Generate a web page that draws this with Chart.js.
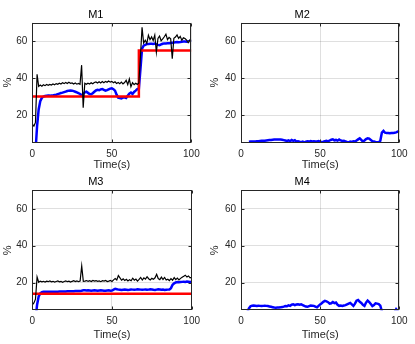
<!DOCTYPE html>
<html>
<head>
<meta charset="utf-8">
<script src="https://cdn.jsdelivr.net/npm/chart.js@4.4.1/dist/chart.umd.min.js"></script>
<style>
  body { margin: 0; background: #fff; }
  .cell { position: absolute; }
</style>
</head>
<body>
<div class="cell" style="left:0;top:0"><canvas id="c1" width="205" height="172"></canvas></div>
<div class="cell" style="left:205px;top:0"><canvas id="c2" width="210" height="172"></canvas></div>
<div class="cell" style="left:0;top:172px"><canvas id="c3" width="205" height="172"></canvas></div>
<div class="cell" style="left:205px;top:172px"><canvas id="c4" width="210" height="172"></canvas></div>
<script>
// time axis (s)
const time = [0,1,2,3,4,5,6,7,8,9,10,11,12,13,14,15,16,17,18,19,20,21,22,23,24,25,26,27,28,29,
  30,31,32,33,34,35,36,37,38,39,40,41,42,43,44,45,46,47,48,49,50,51,52,53,54,55,56,57,58,59,
  60,61,62,63,64,65,66,67,68,69,70,71,72,73,74,75,76,77,78,79,80,81,82,83,84,85,86,87,88,89,
  90,91,92,93,94,95,96,97,98,99,100];

const xTicks = [0, 50, 100];
const yTicks = [20, 40, 60];

// M1
const m1Blue = [-40,-20,0,14,23,27.5,29.3,30,30.3,30.4,
  30.5,30.5,30.6,30.6,30.8,31,31.3,31.6,31.9,32.1,
  32.4,32.7,33,33.2,33.3,33.2,32.9,32.6,32.2,31.8,
  31.4,30.6,31.5,32.3,32.6,32,31.4,31.3,31.8,32.6,
  33.3,33.6,33.4,33.9,34.1,33.6,33.2,33.5,33.9,34.3,
  34.5,34,33.2,31,29.4,29.2,29,29.4,29.6,29.2,
  30.4,31.6,32.2,31.4,32.5,33.2,34,34.2,45,56,
  57.6,58,58.4,58.4,58.6,58.6,58.5,58.7,58.4,58,
  57.8,58.2,58.6,58.8,58.8,58.9,58.9,59,59.1,59.2,
  59.4,59.5,59.4,59.5,59.7,59.8,59.8,59.7,59.9,60.1,
  60.2];
const m1Black = [15,14,16,42,35.5,36.2,35.6,36.4,35.9,36.5,
  36.1,36.6,36.2,36.8,36.4,37,36.6,37.2,36.8,37.5,
  37,37.6,37.1,37.7,37.2,37.4,36.8,37.3,36.7,37.1,
  36.6,47,24,37.2,36.6,37.2,36.8,37.5,36.9,37.6,
  37.9,37.3,38,37.4,38.1,37.5,38.2,37.7,38.4,37.8,
  38.2,37.5,38,37.1,37.6,37,37.8,36.8,37.6,38.8,
  36.5,39.5,35.3,37.5,36.4,37.2,36.6,37.4,52,67.5,
  59,60.5,58.8,63.2,60.8,62.3,60.4,63.3,54,61.5,
  62.8,60.2,61.2,62.4,63.8,60.8,62,61.3,50.5,61.6,
  62.2,63.4,61.5,62.6,60.5,61.8,61.4,60.6,59.2,60.6,
  60.3];
const m1RefTime = [0, 67, 67, 100];
const m1Ref = [30, 30, 55, 55];

// M2
const m2Blue = [null,null,null,null,null,5.5,5.6,5.6,5.7,5.7,
  5.8,5.8,5.9,6,6,6.1,6.2,6.3,6.4,6.5,
  6.6,6.7,6.8,6.8,6.8,6.7,6.6,6.4,6.2,6,
  6.3,5.8,6.5,6,6.4,5.6,5.8,5.5,5.3,5.6,
  5.2,5.5,5.8,5.6,5.9,5.7,5.8,5.6,5.7,5.9,
  5.6,5.3,5.5,5.8,6,5.7,6.2,6.6,6.8,6.3,
  6.5,6.1,6.7,6.2,5.9,6,5.7,5.4,5.2,5.6,
  5.4,5.8,5.6,6.2,6.8,7.4,6.5,5.6,6.2,7,
  7.4,7.2,6.5,5.8,5.6,5.4,5.3,5.3,6,10.5,
  11.4,10.4,10.2,10.3,10.1,10.3,10.2,10.4,10.6,11,
  11.4];

// M3
const m3Blue = [-30,-15,0,8,12.5,14.2,14.8,15,15,15,
  15,15,15,15.1,15.1,15.1,15.1,15.2,15.2,15.2,
  15.2,15.2,15.3,15.3,15.3,15.3,15.3,15.4,15.4,15.4,
  15.4,15.6,15.8,15.8,15.7,15.8,15.7,15.6,15.7,15.8,
  15.7,15.6,15.7,15.8,15.7,15.6,15.6,15.7,15.8,15.6,
  15.7,16.2,16.6,16.4,16.2,16.1,16,16.1,16.2,16.1,
  16,16.1,16.3,16.2,16.1,16.2,16.4,16.3,16.2,16.1,
  16.2,16.3,16.1,16.2,16.4,16.3,16.1,16,16.2,16.4,
  16.3,16.1,16.2,16,16.1,16.2,16.3,17,18.8,19.6,
  20.1,20.3,20.2,20.3,20.4,20.5,20.4,20.6,20.5,20.4,
  20.5];
const m3Black = [8,9,11,23,20.2,20.8,20.4,20.7,20.3,20.8,
  20.5,20.9,20.4,20.7,20.3,20.6,20.9,20.4,20.7,20.2,
  20.6,20.9,20.5,20.8,20.3,20.7,21,20.6,20.9,20.5,
  20.8,29,20.7,20.8,21.1,20.7,21,20.6,21.2,20.8,
  21.1,20.7,20.9,20.5,21,20.8,21.2,20.6,20.8,21.2,
  20.6,21.5,22.2,21.4,23.8,22.6,21.3,22,21.2,21.8,
  20.9,21.6,21,22.4,21.3,21.9,20.8,21.7,22.8,21.4,
  22.6,21.9,23.2,22.1,21.4,22.3,21.8,22.6,24.5,22.2,
  21.6,23,21.7,22.8,21.4,21.8,21.1,22.2,21.3,22.7,
  21.6,22.4,21.5,22.3,22.9,23.4,24,23,23.6,22.6,
  22.8];
const m3RefTime = [0, 100];
const m3Ref = [14, 14];

// M4
const m4Blue = [null,null,null,null,4,6,7.2,7.5,7.6,7.5,
  7.4,7.5,7.4,7.3,7.4,7.5,7.4,7.3,7.1,6.9,
  6.7,6.5,6.4,6.5,6.5,6.6,6.8,7,7.3,7.2,
  7.7,7.4,8,8.2,7.8,8.1,8.3,8,8.2,7.8,
  7.4,7,6.9,7.3,7.6,7.5,7.4,7,6.6,7.4,
  8.2,8.8,9.6,10.1,9.8,9.4,8.6,8.8,9.5,8.9,
  9.2,8,7.4,7.6,7.4,7.6,7.8,8.2,8.6,9,
  8.2,7.4,8.6,10.2,10.6,9.6,9,8,7.4,9.2,
  10.3,9.5,8.4,7.3,7.8,8.8,8.6,8.4,7.5,4.5,
  2,0,-1,-1,0,1,2,4,5.6,4.5,
  2];

const fontFamily = 'Liberation Sans, Arial, Helvetica, sans-serif';
const axisColor = '#262626';
const gridColor = 'rgba(38,38,38,0.15)';

function pts(xs, ys) {
  return xs.map((x, i) => ({ x: x, y: ys[i] }));
}

function line(xs, ys, color, width) {
  return {
    data: pts(xs, ys),
    borderColor: color,
    borderWidth: width,
    pointRadius: 0,
    tension: 0,
    fill: false,
    spanGaps: false
  };
}

// MATLAB-style box with inward ticks
const boxPlugin = {
  id: 'box',
  afterDatasetsDraw(chart) {
    const { ctx, chartArea: a, scales } = chart;
    const L = Math.round(a.left) + 0.5, R = Math.round(a.right) - 0.5;
    const T = Math.round(a.top) + 0.5, B = Math.round(a.bottom) - 0.5;
    ctx.save();
    ctx.strokeStyle = axisColor;
    ctx.lineWidth = 1;
    ctx.strokeRect(L, T, R - L, B - T);
    ctx.beginPath();
    xTicks.forEach(v => {
      const px = Math.round(scales.x.getPixelForValue(v)) + 0.5;
      ctx.moveTo(px, B); ctx.lineTo(px, B - 3);
      ctx.moveTo(px, T); ctx.lineTo(px, T + 3);
    });
    yTicks.forEach(v => {
      const py = Math.round(scales.y.getPixelForValue(v)) + 0.5;
      ctx.moveTo(L, py); ctx.lineTo(L + 3, py);
      ctx.moveTo(R, py); ctx.lineTo(R - 3, py);
    });
    ctx.stroke();
    ctx.restore();
  }
};

function makeChart(id, title, datasets, g) {
  return new Chart(document.getElementById(id), {
    type: 'line',
    data: { datasets: datasets },
    options: {
      responsive: false,
      animation: false,
      layout: { padding: { left: 0, right: g.right, top: 0, bottom: 0 } },
      plugins: {
        legend: { display: false },
        tooltip: { enabled: false },
        title: {
          display: true, text: title, color: '#000',
          font: { family: fontFamily, size: 11, weight: 'normal' },
          padding: { top: g.titleTop, bottom: g.titleBottom }
        }
      },
      scales: {
        x: {
          type: 'linear', min: 0, max: 100,
          afterBuildTicks: s => { s.ticks = xTicks.map(v => ({ value: v })); },
          afterFit: s => { s.height = g.xHeight; },
          grid: { color: gridColor, drawTicks: false },
          border: { display: false },
          ticks: { color: axisColor, font: { family: fontFamily, size: 10 }, padding: g.xTickPad, maxRotation: 0, autoSkip: false },
          title: { display: true, text: 'Time(s)', color: axisColor, font: { family: fontFamily, size: 11 }, padding: { top: 0, bottom: g.xTitleBottom } }
        },
        y: {
          min: 5, max: 70,
          afterBuildTicks: s => { s.ticks = yTicks.map(v => ({ value: v })); },
          afterFit: s => { s.width = g.yWidth; },
          grid: { color: gridColor, drawTicks: false },
          border: { display: false },
          ticks: { color: axisColor, font: { family: fontFamily, size: 10 }, padding: 5 },
          title: { display: true, text: '%', color: axisColor, font: { family: fontFamily, size: 11 }, padding: { top: g.yTitleLeft, bottom: 0 } }
        }
      }
    },
    plugins: [boxPlugin]
  });
}

const topRow = { titleTop: 8.4, titleBottom: 1.1, xHeight: 29.3, xTickPad: 5.3, xTitleBottom: 0 };
const botRow = { titleTop: 3.4, titleBottom: 1.7, xHeight: 33.7, xTickPad: 4.7, xTitleBottom: 2.1 };
const leftCol = { yWidth: 32.3, right: 13.3, yTitleLeft: 1.7 };
const rightCol = { yWidth: 36, right: 15.7, yTitleLeft: 3.4 };

makeChart('c1', 'M1', [
  line(time, m1Black, '#000000', 1.2),
  line(m1RefTime, m1Ref, '#ff0000', 2.5),
  line(time, m1Blue, '#0000ff', 2.5)
], Object.assign({}, topRow, leftCol));

makeChart('c2', 'M2', [
  line(time, m2Blue, '#0000ff', 2.5)
], Object.assign({}, topRow, rightCol));

makeChart('c3', 'M3', [
  line(time, m3Black, '#000000', 1.2),
  line(m3RefTime, m3Ref, '#ff0000', 2.5),
  line(time, m3Blue, '#0000ff', 2.5)
], Object.assign({}, botRow, leftCol));

makeChart('c4', 'M4', [
  line(time, m4Blue, '#0000ff', 2.5)
], Object.assign({}, botRow, rightCol));
</script>
</body>
</html>
